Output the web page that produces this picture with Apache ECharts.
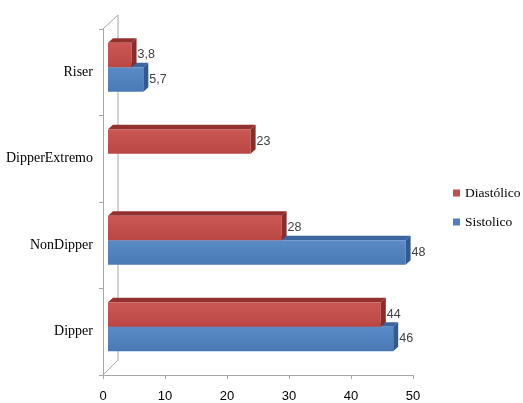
<!DOCTYPE html>
<html>
<head>
<meta charset="utf-8">
<script src="https://cdn.jsdelivr.net/npm/echarts@6/dist/echarts.min.js"></script>
<style>
html,body{margin:0;padding:0;background:#fff;}
#chart{width:523px;height:403px;}
</style>
</head>
<body>
<div id="chart"></div>
<script>
const categories = ['Dipper', 'NonDipper', 'DipperExtremo', 'Riser'];
const diastolico = [44, 28, 23, 3.8];
const sistolico = [46, 48, null, 5.7];
const xTicks = { min: 0, max: 50, interval: 10 };

const SHIFT = 5;      // bars sit in the middle of the 3D depth
const DX = 5, DY = 4.5; // bar depth
const COLORS = {
  red:  { front: ['#CB5855', '#BA4744'], top: '#93312E', side: '#8A2C29' },
  blue: { front: ['#5A8BC6', '#4A7AB5'], top: '#3B66A0', side: '#335A8E' }
};

function fmt(v) { return String(v).replace('.', ','); }

function barRenderer(upper, pal) {
  return function (params, api) {
    const v = api.value(0);
    if (v == null || isNaN(v)) return null;
    const cat = api.value(1);
    const p0 = api.coord([0, cat]);
    const p1 = api.coord([v, cat]);
    const band = api.size([0, 1])[1];
    const h = band * 0.283;
    const x0 = p0[0] + SHIFT, x1 = p1[0] + SHIFT;
    const yTop = p0[1] - SHIFT + (upper ? -h : 0);
    return {
      type: 'group',
      children: [
        { type: 'polygon', shape: { points: [[x0, yTop], [x0 + DX, yTop - DY], [x1 + DX, yTop - DY], [x1, yTop]] },
          style: { fill: pal.top } },
        { type: 'rect', shape: { x: x0, y: yTop, width: x1 - x0, height: h },
          style: { fill: new echarts.graphic.LinearGradient(0, 0, 0, 1, [{ offset: 0, color: pal.front[0] }, { offset: 1, color: pal.front[1] }]) } },
        { type: 'polygon', shape: { points: [[x1, yTop], [x1 + DX, yTop - DY], [x1 + DX, yTop + h - DY], [x1, yTop + h]] },
          style: { fill: pal.side } },
        { type: 'text', style: { x: x1 + DX + 1, y: yTop + h / 2, text: fmt(v), align: 'left', verticalAlign: 'middle',
          fontFamily: 'Liberation Sans', fontSize: 12.5, fill: '#404040' } }
      ]
    };
  };
}

function frameRenderer(params, api) {
  const cs = params.coordSys;
  const L = cs.x, T = cs.y, B = cs.y + cs.height;
  const d = 15;
  const st = { stroke: '#A6A6A6', lineWidth: 1 };
  return {
    type: 'group',
    children: [
      { type: 'line', shape: { x1: L + d, y1: T - d + 1, x2: L + d, y2: B - d }, style: st },
      { type: 'line', shape: { x1: L, y1: T, x2: L + d, y2: T - d + 1 }, style: st },
      { type: 'line', shape: { x1: L, y1: B, x2: L + d, y2: B - d }, style: st }
    ]
  };
}

const chart = echarts.init(document.getElementById('chart'));
chart.setOption({
  animation: false,
  backgroundColor: '#fff',
  grid: { left: 103, right: 110, top: 29, bottom: 28 },
  legend: {
    orient: 'vertical', left: 448, top: 181,
    data: ['Diastólico', 'Sistolico'],
    icon: 'rect', itemWidth: 7, itemHeight: 7, itemGap: 15,
    textStyle: { fontFamily: 'Liberation Serif', fontSize: 13.5, color: '#000' }
  },
  xAxis: {
    type: 'value', min: xTicks.min, max: xTicks.max, interval: xTicks.interval,
    axisLine: { show: true, lineStyle: { color: '#A6A6A6' } },
    axisTick: { show: true, length: 4, lineStyle: { color: '#A6A6A6' } },
    splitLine: { show: false },
    axisLabel: { margin: 15, fontFamily: 'Liberation Sans', fontSize: 13, color: '#000' }
  },
  yAxis: {
    type: 'category', data: categories,
    axisLine: { show: true, lineStyle: { color: '#A6A6A6' } },
    axisTick: { show: true, length: 4, lineStyle: { color: '#A6A6A6' } },
    axisLabel: { margin: 10, fontFamily: 'Liberation Serif', fontSize: 14, color: '#000' }
  },
  series: [
    { type: 'custom', name: 'frame', renderItem: frameRenderer, data: [[0, 0]], encode: { x: 0, y: 1 }, silent: true, z: 1 },
    { type: 'custom', name: 'Sistolico', renderItem: barRenderer(false, COLORS.blue),
      itemStyle: { color: '#4F81BD' }, encode: { x: 0, y: 1 }, z: 2,
      data: sistolico.map((v, i) => [v == null ? NaN : v, i]) },
    { type: 'custom', name: 'Diastólico', renderItem: barRenderer(true, COLORS.red),
      itemStyle: { color: '#C0504D' }, encode: { x: 0, y: 1 }, z: 3,
      data: diastolico.map((v, i) => [v, i]) }
  ]
});
</script>
</body>
</html>
